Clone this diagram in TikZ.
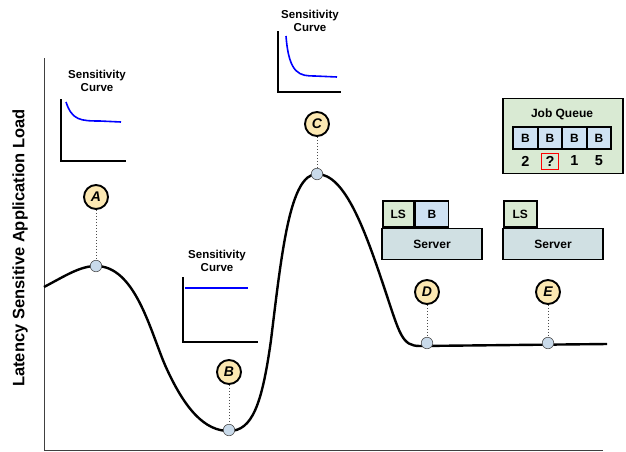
\documentclass[tikz,border=0pt]{standalone}
\usepackage{fontspec}
\setmainfont{Liberation Sans}
\usetikzlibrary{calc}
\definecolor{lsgreen}{HTML}{D9EAD3}
\definecolor{bblue}{HTML}{CFE2F3}
\definecolor{srvgray}{HTML}{D0E0E3}
\definecolor{tagbeige}{HTML}{FCE8B2}
\definecolor{ballblue}{HTML}{C9DAEA}
\tikzset{
  tag/.style={circle, draw=black, line width=1.9pt, fill=tagbeige, minimum size=24pt, inner sep=0pt, font=\bfseries\itshape\fontsize{14}{14}\selectfont},
  ball/.style={circle, draw=black!70, line width=0.6pt, fill=ballblue, minimum size=11.5pt, inner sep=0pt},
  drop/.style={black!70, dotted, line width=1pt},
  ttl/.style={align=center, font=\bfseries\fontsize{11.5}{13}\selectfont},
  job/.style={draw=black, line width=1.6pt, inner sep=0pt, font=\bfseries\fontsize{12}{12}\selectfont},
  wait/.style={inner sep=0pt, minimum width=17pt, minimum height=16pt, font=\bfseries\fontsize{14.5}{14.5}\selectfont},
}
\begin{document}
\begin{tikzpicture}[x=1pt, y=-1pt]
			%%%%% START %%%%%
			\useasboundingbox (0,0) rectangle (626,451);
			
			% axes
			\draw[line width=1pt, black!75] (44,58) -- (44,450) -- (603,450);
			\node[rotate=90, font=\bfseries\fontsize{16.5}{16.5}\selectfont] (ylab) at (20,248) {Latency Sensitive Application Load};
			
			% load curve
			\draw[line width=2.4pt] (44,287) .. controls (65,276) and (80,266) .. (96,266)
			  .. controls (135,266) and (150,330) .. (165,365)
			  .. controls (185,410) and (205,431) .. (229,431)
			  .. controls (252,431) and (262,405) .. (271,340)
			  .. controls (282,250) and (290,174) .. (317,174)
			  .. controls (345,174) and (365,230) .. (385,290)
			  .. controls (400,335) and (402,346) .. (420,346) -- (607,344);
			
			% markers
			\node[ball] (mA) at (96,266) {};
			\node[ball] (mB) at (229,430) {};
			\node[ball] (mC) at (317,174) {};
			\node[ball] (mD) at (427,343) {};
			\node[ball] (mE) at (548,343) {};
			
			\node[tag] (tA) at (96,197) {A};
			\node[tag] (tB) at (229,372) {B};
			\node[tag] (tC) at (317,124) {C};
			\node[tag] (tD) at (427,292) {D};
			\node[tag] (tE) at (548,292) {E};
			
			\foreach \p in {A,B,C,D,E}
			  \draw[drop] (t\p) -- (m\p);
			
			% sensitivity curves
			\node[ttl] (sA) at (97,81) {Sensitivity\\Curve};
			\draw[line width=1.8pt] (61,99) -- (61,161) -- (126,161);
			\draw[blue, line width=1.6pt] (66,102) .. controls (72,120) and (80,121) .. (100,121) -- (121,122);
			
			\node[ttl] (sB) at (217,261) {Sensitivity\\Curve};
			\draw[line width=1.8pt] (183,277) -- (183,342) -- (258,342);
			\draw[blue, line width=1.6pt] (185,288) -- (248,288);
			
			\node[ttl] (sC) at (310,21) {Sensitivity\\Curve};
			\draw[line width=1.8pt] (278,31) -- (278,92) -- (341,92);
			\draw[blue, line width=1.6pt] (286,36) .. controls (289,75) and (300,76) .. (315,76) -- (337,77);
			
			% servers
			\node[job, fill=srvgray, minimum width=100pt, minimum height=31pt] (srvD) at (432,244) {Server};
			\node[job, fill=lsgreen, minimum width=31pt, minimum height=26pt, anchor=south west] (lsD) at (382,228) {LS};
			\node[job, fill=bblue, minimum width=33pt, minimum height=26pt, anchor=south west] (bD) at (lsD.south east) {B};
			
			\node[job, fill=srvgray, minimum width=100pt, minimum height=31pt] (srvE) at (553,244) {Server};
			\node[job, fill=lsgreen, minimum width=33pt, minimum height=26pt, anchor=south west] (lsE) at (503,228) {LS};
			
			% job queue
			\node[draw=black, line width=1.8pt, fill=lsgreen, minimum width=120pt, minimum height=75pt] (queue) at (563,136) {};
			\node[font=\bfseries\fontsize{12}{12}\selectfont] (qt) at (562,114) {Job Queue};
			\foreach \n/\k in {1/2,2/?,3/1,4/5} {
			  \node[job, fill=bblue, minimum width=24.5pt, minimum height=22pt] (q\n) at (501+24.5*\n,138) {B};
			  \node[wait] (w\n) at (q\n |- 0,161) {\k};
			}
			\draw[red, line width=0.6pt] (w2.south west) rectangle (w2.north east);
			
			%%%%% END %%%%%
\end{tikzpicture}
\end{document}
